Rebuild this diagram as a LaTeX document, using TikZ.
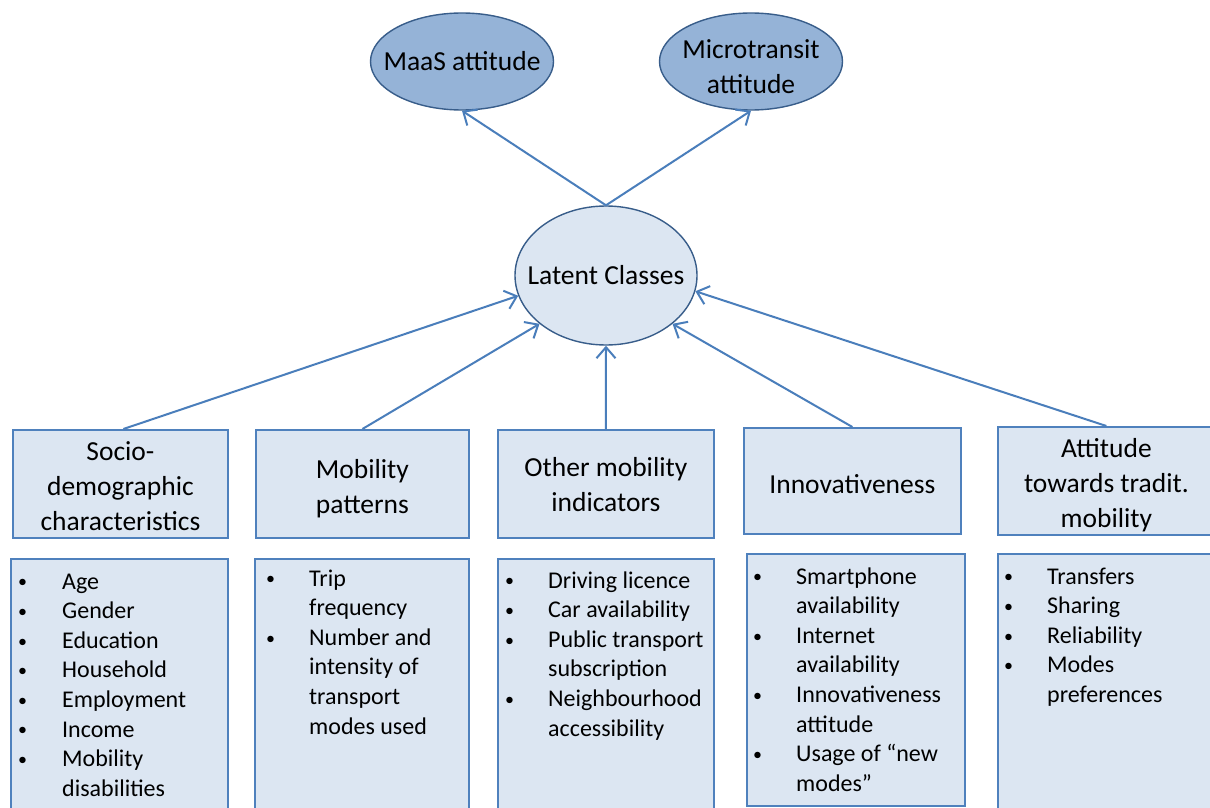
\documentclass[tikz,border=0pt]{standalone}
\usepackage{fontspec}
\setmainfont{Carlito}
\usetikzlibrary{shapes.geometric,arrows.meta}
\definecolor{topfill}{HTML}{95B3D7}
\definecolor{lightfill}{HTML}{DCE6F2}
\definecolor{darkline}{HTML}{385D8A}
\definecolor{boxline}{HTML}{4F81BD}
\definecolor{arrowc}{HTML}{4A7EBB}
\newcommand{\blt}{\raisebox{1.2pt}{\fontsize{18}{18}\selectfont\textbullet}}
\begin{document}
\begin{tikzpicture}[x=1pt,y=-1pt,
  titlefont/.style={font=\fontsize{27.5}{35}\selectfont},
  tbox/.style={rectangle, draw=boxline, fill=lightfill, line width=1.8pt, inner sep=0pt, anchor=north west},
  ttext/.style={inner sep=0pt, align=center, titlefont},
  lbox/.style={rectangle, draw=boxline, fill=lightfill, line width=1.8pt, inner sep=0pt, anchor=north west},
  ltext/.style={anchor=base west, inner sep=0pt, font=\fontsize{24}{29.6}\selectfont},
  ell/.style={ellipse, draw=darkline, line width=1.4pt, inner sep=0pt},
  topell/.style={ell, fill=topfill, minimum width=183pt, minimum height=97pt},
  arr/.style={draw=arrowc, line width=2pt, -{Straight Barb[length=11pt,width=19pt]}}
]
\fill[white] (0,0) rectangle (1210,808);
\useasboundingbox (0,0) rectangle (1210,808);

% ellipses
\node[topell] (maas) at (462,61.5) {};
\node[ttext] (maast) at (maas.center) {MaaS attitude};
\node[topell] (micro) at (751,61.5) {};
\node[ttext] (microt) at ([yshift=-5pt]micro.center) {Microtransit\\attitude};
\node[ell, fill=lightfill, minimum width=182pt, minimum height=139pt] (lc) at (606,275.5) {};
\node[ttext] (lct) at (lc.center) {Latent Classes};

% title boxes
\node[tbox, minimum width=215pt, minimum height=108pt] (b1) at (12,429) {};
\node[tbox, minimum width=213pt, minimum height=108pt] (b2) at (255,429) {};
\node[tbox, minimum width=216pt, minimum height=108pt] (b3) at (497,429) {};
\node[tbox, minimum width=217pt, minimum height=106pt] (b4) at (743,427) {};
\node[tbox, minimum width=217pt, minimum height=108pt] (b5) at (997,426) {};
\node[ttext] (b1t) at ([yshift=-2pt]b1.center) {Socio-\\demographic\\characteristics};
\node[ttext] (b2t) at ([yshift=-5pt]b2.center) {Mobility\\patterns};
\node[ttext] (b3t) at ([yshift=-1pt]b3.center) {Other mobility\\indicators};
\node[ttext] (b4t) at ([yshift=-3pt]b4.center) {Innovativeness};
\node[ttext] (b5t) at ([yshift=-4pt]b5.center) {Attitude\\towards tradit.\\mobility};

% list boxes
\node[lbox, minimum width=217pt, minimum height=260pt] (l1) at (10,558) {};
\node[lbox, minimum width=214pt, minimum height=260pt] (l2) at (254,558) {};
\node[lbox, minimum width=216pt, minimum height=260pt] (l3) at (497,558) {};
\node[lbox, minimum width=218pt, minimum height=252pt] (l4) at (746,553) {};
\node[lbox, minimum width=218pt, minimum height=265pt] (l5) at (997,553) {};

% list texts
\node[ltext] (t1) at (18,589) {\begin{tabular}[t]{@{}p{44pt}@{}l@{}}
\blt & Age\\ \blt & Gender\\ \blt & Education\\ \blt & Household\\
\blt & Employment\\ \blt & Income\\ \blt & Mobility\\ & disabilities
\end{tabular}};
\node[ltext] (t2) at (266,586) {\begin{tabular}[t]{@{}p{43pt}@{}l@{}}
\blt & Trip\\ & frequency\\ \blt & Number and\\ & intensity of\\ & transport\\ & modes used
\end{tabular}};
\node[ltext] (t3) at (505,588) {\begin{tabular}[t]{@{}p{43pt}@{}l@{}}
\blt & Driving licence\\ \blt & Car availability\\ \blt & Public transport\\ & subscription\\
\blt & Neighbourhood\\ & accessibility
\end{tabular}};
\node[ltext] (t4) at (753,584) {\begin{tabular}[t]{@{}p{43pt}@{}l@{}}
\blt & Smartphone\\ & availability\\ \blt & Internet\\ & availability\\
\blt & Innovativeness\\ & attitude\\ \blt & Usage of “new\\ & modes”
\end{tabular}};
\node[ltext] (t5) at (1004,584) {\begin{tabular}[t]{@{}p{43pt}@{}l@{}}
\blt & Transfers\\ \blt & Sharing\\ \blt & Reliability\\ \blt & Modes\\ & preferences
\end{tabular}};

% arrows
\draw[arr] (lc.north) -- (maas.south);
\draw[arr] (lc.north) -- (micro.south);
\draw[arr] ([xshift=3pt]b1.north) -- (lc.193.6);
\draw[arr] (b2.north) -- (lc.216.4);
\draw[arr] (b3.north) -- (lc.south);
\draw[arr] (b4.north) -- (lc.324.4);
\draw[arr] (b5.north) -- (lc.350.6);
\end{tikzpicture}
\end{document}
